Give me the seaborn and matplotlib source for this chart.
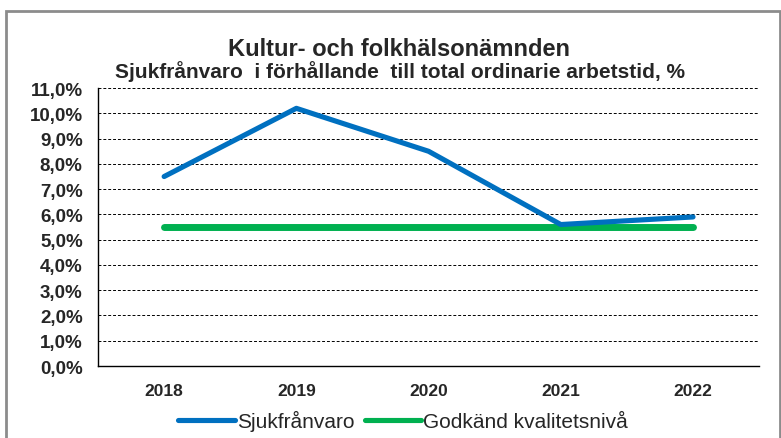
import numpy as np
import pandas as pd
import seaborn as sns
import matplotlib.pyplot as plt
from matplotlib.patches import Rectangle
from matplotlib.lines import Line2D
from matplotlib.ticker import FuncFormatter

years = ['2018', '2019', '2020', '2021', '2022']
sjukfranvaro = [7.5, 10.2, 8.5, 5.6, 5.9]
godkand = [5.5, 5.5, 5.5, 5.5, 5.5]

df = pd.DataFrame({'year': years * 2,
                   'value': sjukfranvaro + godkand,
                   'serie': ['Sjukfrånvaro'] * 5 + ['Godkänd kvalitetsnivå'] * 5})

sns.set_style('white')
plt.rcParams['font.family'] = ['Liberation Sans', 'DejaVu Sans']

fig = plt.figure(figsize=(7.81, 4.39), dpi=100)
ax = fig.add_axes([0.1255, 0.164, 0.8465, 0.633])

sns.lineplot(data=df, x='year', y='value', hue='serie',
             palette={'Sjukfrånvaro': '#0070C0', 'Godkänd kvalitetsnivå': '#00B050'},
             ax=ax, legend=False, solid_capstyle='round')
ax.lines[0].set_linewidth(3.7)
ax.lines[1].set_linewidth(5.0)
ax.lines[0].set_zorder(3)
ax.lines[1].set_zorder(2)

ax.set_xlim(-0.5, 4.5)
ax.set_ylim(0, 11)
ax.set_yticks(np.arange(0, 12, 1))
ax.yaxis.set_major_formatter(FuncFormatter(lambda v, p: f'{v:.1f}%'.replace('.', ',')))
ax.yaxis.grid(True, color='black', linestyle=(0, (3, 2)), linewidth=0.7)
ax.set_axisbelow(True)
for s in ['top', 'right']:
    ax.spines[s].set_visible(False)
for s in ['left', 'bottom']:
    ax.spines[s].set_color('black')
    ax.spines[s].set_linewidth(1.0)
ax.tick_params(axis='y', length=0, labelsize=13.5, pad=11)
ax.tick_params(axis='x', length=0, labelsize=12.5, pad=12)
for lbl in ax.get_xticklabels() + ax.get_yticklabels():
    lbl.set_fontweight('bold')
ax.set_xlabel('')
ax.set_ylabel('')

fig.text(0.511, 0.887, 'Kultur- och folkhälsonämnden', ha='center', va='center',
         fontsize=17, fontweight='bold')
fig.text(0.512, 0.838, 'Sjukfrånvaro  i förhållande  till total ordinarie arbetstid, %',
         ha='center', va='center', fontsize=15, fontweight='bold')

handles = [Line2D([], [], color='#0070C0', lw=3.7, solid_capstyle='round'),
           Line2D([], [], color='#00B050', lw=3.7, solid_capstyle='round')]
fig.legend(handles, ['Sjukfrånvaro', 'Godkänd kvalitetsnivå'], loc='center',
           bbox_to_anchor=(0.516, 0.04), ncol=2, frameon=False, fontsize=15,
           handlelength=2.7, handletextpad=0.1, columnspacing=0.5,
           borderaxespad=0, borderpad=0)

fig.patches.append(Rectangle((6 / 781, -0.05), 774 / 781, 1.05 - 12 / 439,
                             transform=fig.transFigure, fill=False,
                             edgecolor='#8c8c8c', linewidth=2))

fig.savefig('out.png', dpi=100)
